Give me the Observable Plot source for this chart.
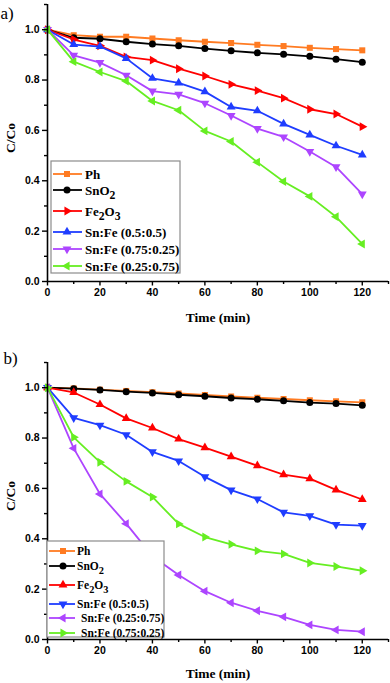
<!DOCTYPE html>
<html><head><meta charset="utf-8">
<script src="https://cdn.jsdelivr.net/npm/d3@7"></script>
<script src="https://cdn.jsdelivr.net/npm/@observablehq/plot@0.6"></script>
<style>
body{margin:0;background:#fff;}
#wrap{position:relative;width:390px;height:683px;overflow:hidden;background:#fff;}
#wrap svg{display:block;}
</style></head><body><div id="wrap"></div>
<script>
const times = [0,10,20,30,40,50,60,70,80,90,100,110,120];
const xMajor = [0,20,40,60,80,100,120];
const xMinor = [10,30,50,70,90,110,130];
const yMajor = [0,0.2,0.4,0.6,0.8,1.0];
const yMinor = [0.1,0.3,0.5,0.7,0.9,1.1];
// panel a
const aPh      = [1.0,0.978,0.972,0.972,0.965,0.958,0.952,0.947,0.940,0.935,0.928,0.923,0.918];
const aSnO2    = [1.0,0.968,0.964,0.952,0.943,0.936,0.925,0.916,0.908,0.902,0.894,0.883,0.871];
const aFe2O3   = [1.0,0.961,0.936,0.892,0.879,0.845,0.816,0.783,0.758,0.728,0.684,0.665,0.615];
const aSnFe55  = [1.0,0.941,0.933,0.886,0.807,0.789,0.754,0.693,0.678,0.626,0.582,0.539,0.503];
const aSnFe7525= [1.0,0.898,0.869,0.819,0.756,0.743,0.708,0.659,0.607,0.574,0.516,0.455,0.347];
const aSnFe2575= [1.0,0.873,0.832,0.796,0.717,0.680,0.598,0.556,0.474,0.397,0.338,0.257,0.149];
// panel b
const bPh      = [1.0,0.997,0.992,0.987,0.982,0.977,0.971,0.965,0.960,0.955,0.950,0.946,0.942];
const bSnO2    = [1.0,0.996,0.991,0.984,0.979,0.972,0.966,0.959,0.954,0.948,0.941,0.937,0.930];
const bFe2O3   = [1.0,0.981,0.933,0.878,0.840,0.796,0.762,0.726,0.690,0.655,0.639,0.594,0.556];
const bSnFe55  = [1.0,0.880,0.851,0.813,0.745,0.709,0.646,0.593,0.558,0.505,0.491,0.456,0.452];
const bSnFe2575= [1.0,0.759,0.578,0.460,0.331,0.256,0.192,0.146,0.114,0.090,0.058,0.038,0.031];
const bSnFe7525= [1.0,0.803,0.704,0.628,0.566,0.459,0.407,0.378,0.352,0.340,0.304,0.290,0.273];

const labelsA = ["Ph","SnO_2","Fe_2O_3","Sn:Fe (0.5:0.5)","Sn:Fe (0.75:0.25)","Sn:Fe (0.25:0.75)"];
const labelsB = ["Ph","SnO_2","Fe_2O_3","Sn:Fe (0.5:0.5)","Sn:Fe (0.25:0.75)","Sn:Fe (0.75:0.25)"];
const colOrange = "#ff7b22", colBlack = "#000000", colRed = "#ff0000",
      colBlue = "#1f3dff", colPurple = "#ad45ff", colGreen = "#66ee22";

function tri(angle) {
  return {draw(ctx, size) {
    const s3 = Math.sqrt(3), y = -Math.sqrt(size / (s3 * 3));
    const pts = [[0, y * 2], [-s3 * y, -y], [s3 * y, -y]];
    const c = Math.cos(angle), s = Math.sin(angle);
    pts.forEach(([px, py], i) => { const X = px * c - py * s, Y = px * s + py * c; i ? ctx.lineTo(X, Y) : ctx.moveTo(X, Y); });
    ctx.closePath();
  }};
}
const triUp = tri(0), triRight = tri(Math.PI / 2), triDown = tri(Math.PI), triLeft = tri(-Math.PI / 2);

const seriesA = [
  {label: labelsA[0], values: aPh, color: colOrange, symbol: d3.symbolSquare, r: 3.4},
  {label: labelsA[1], values: aSnO2, color: colBlack, symbol: d3.symbolCircle, r: 3.5},
  {label: labelsA[2], values: aFe2O3, color: colRed, symbol: triRight, r: 3.3},
  {label: labelsA[3], values: aSnFe55, color: colBlue, symbol: triUp, r: 3.3},
  {label: labelsA[4], values: aSnFe7525, color: colPurple, symbol: triDown, r: 3.3},
  {label: labelsA[5], values: aSnFe2575, color: colGreen, symbol: triLeft, r: 3.3}
];
const seriesB = [
  {label: labelsB[0], values: bPh, color: colOrange, symbol: d3.symbolSquare, r: 3.4},
  {label: labelsB[1], values: bSnO2, color: colBlack, symbol: d3.symbolCircle, r: 3.5},
  {label: labelsB[2], values: bFe2O3, color: colRed, symbol: triUp, r: 3.3},
  {label: labelsB[3], values: bSnFe55, color: colBlue, symbol: triDown, r: 3.3},
  {label: labelsB[4], values: bSnFe2575, color: colPurple, symbol: triLeft, r: 3.3},
  {label: labelsB[5], values: bSnFe7525, color: colGreen, symbol: triRight, r: 3.3}
];

function makePanel(series, opts) {
  const marks = [];
  for (const s of series) {
    const rows = s.values.map((v, i) => ({t: times[i], v}));
    marks.push(Plot.line(rows, {x: "t", y: "v", stroke: s.color, strokeWidth: 1.8}));
    marks.push(Plot.dot(rows, {x: "t", y: "v", fill: s.color, stroke: "none", symbol: s.symbol, r: s.r}));
  }
  const plot = Plot.plot({
    width: 390, height: opts.height,
    marginLeft: 47, marginRight: 2, marginTop: opts.marginTop, marginBottom: opts.marginBottom,
    style: {fontFamily: "'Liberation Sans', Arial, sans-serif", fontSize: "10.5px", fontWeight: "bold", background: "transparent", color: "#000"},
    x: {domain: [0, 130], label: null},
    y: {domain: [0, 1.1], label: null},
    marks: [
      ...marks,
      Plot.ruleX([0], {strokeWidth: 1.6}),
      Plot.ruleY([0], {strokeWidth: 1.6}),
      Plot.axisX({ticks: xMajor, tickSize: 4.5, tickPadding: 3, tickFormat: d => String(d), strokeWidth: 1.4, fontWeight: "bold"}),
      Plot.axisX({ticks: xMinor, tickSize: 3, tickFormat: () => "", strokeWidth: 1.4}),
      Plot.axisY({ticks: yMajor, tickSize: 5, tickPadding: 3, tickFormat: d3.format(".1f"), strokeWidth: 1.4, fontWeight: "bold"}),
      Plot.axisY({ticks: yMinor, tickSize: 3, tickFormat: () => "", strokeWidth: 1.4}),
      Plot.text(["Time (min)"], {text: d => d, frameAnchor: "bottom", dy: opts.xLabelDy, lineAnchor: "middle", fontFamily: "'Liberation Serif', 'Times New Roman', serif", fontSize: 13.5, fontWeight: "bold"}),
      Plot.text(["C/Co"], {text: d => d, frameAnchor: "left", rotate: -90, dx: -37, dy: 10, lineAnchor: "middle", fontFamily: "'Liberation Serif', 'Times New Roman', serif", fontSize: 13.5, fontWeight: "bold"}),
      Plot.text([opts.tag], {text: d => d, frameAnchor: "top-left", textAnchor: "start", dx: opts.tagDx, dy: opts.tagDy, lineAnchor: "middle", fontFamily: "'Liberation Serif', 'Times New Roman', serif", fontSize: 17, fontWeight: "normal"})
    ]
  });
  // legend
  const L = opts.legend;
  const svg = d3.select(plot.tagName.toLowerCase() === "svg" ? plot : plot.querySelector("svg"));
  const g = svg.append("g").attr("class", "legend").attr("text-anchor", "start");
  g.append("rect").attr("x", L.x).attr("y", L.y).attr("width", L.w).attr("height", L.h)
    .attr("fill", "#fff").attr("stroke", "#8c8c8c").attr("stroke-width", 1.2);
  series.forEach((s, i) => {
    const y = L.rows[i];
    g.append("line").attr("x1", L.lx1).attr("x2", L.lx2).attr("y1", y).attr("y2", y)
      .attr("stroke", s.color).attr("stroke-width", 1.8);
    g.append("path").attr("transform", `translate(${L.mx},${y})`)
      .attr("d", d3.symbol().type(s.symbol).size(Math.PI * s.r * s.r)()).attr("fill", s.color);
    const t = g.append("text").attr("x", L.tx[i]).attr("y", y).attr("dy", "0.35em")
      .attr("text-anchor", "start")
      .attr("font-family", "'Liberation Serif', 'Times New Roman', serif").attr("font-weight", "bold")
      .attr("font-size", L.fs).attr("fill", "#000");
    const parts = s.label.split(/(_.)/).filter(p => p.length);
    let sub = false;
    for (const p of parts) {
      if (p[0] === "_") {
        t.append("tspan").attr("dy", 4).attr("font-size", L.fs * 0.9).text(p[1]);
        sub = true;
      } else {
        const ts = t.append("tspan").text(p);
        if (sub) { ts.attr("dy", -4); sub = false; }
      }
    }
  });
  return plot;
}

const wrap = document.getElementById("wrap");
wrap.append(makePanel(seriesA, {
  height: 333, marginTop: 4, marginBottom: 52, xLabelDy: 36, tag: "a)", tagDx: -47, tagDy: 9,
  legend: {x: 51, y: 161, w: 129, h: 112, rows: [174, 190, 211, 232, 249, 266], lx1: 53, lx2: 82, mx: 67, tx: [85,85,85,85,85,85], fs: 13}
}));
wrap.append(makePanel(seriesB, {
  height: 350, marginTop: 29, marginBottom: 44, xLabelDy: 34, tag: "b)", tagDx: -44, tagDy: -4,
  legend: {x: 47, y: 208, w: 117, h: 96, rows: [218, 233, 252, 271, 285, 300], lx1: 49, lx2: 75, mx: 63, tx: [77,77,77,77,81,81], fs: 11.5}
}));
</script></body></html>
